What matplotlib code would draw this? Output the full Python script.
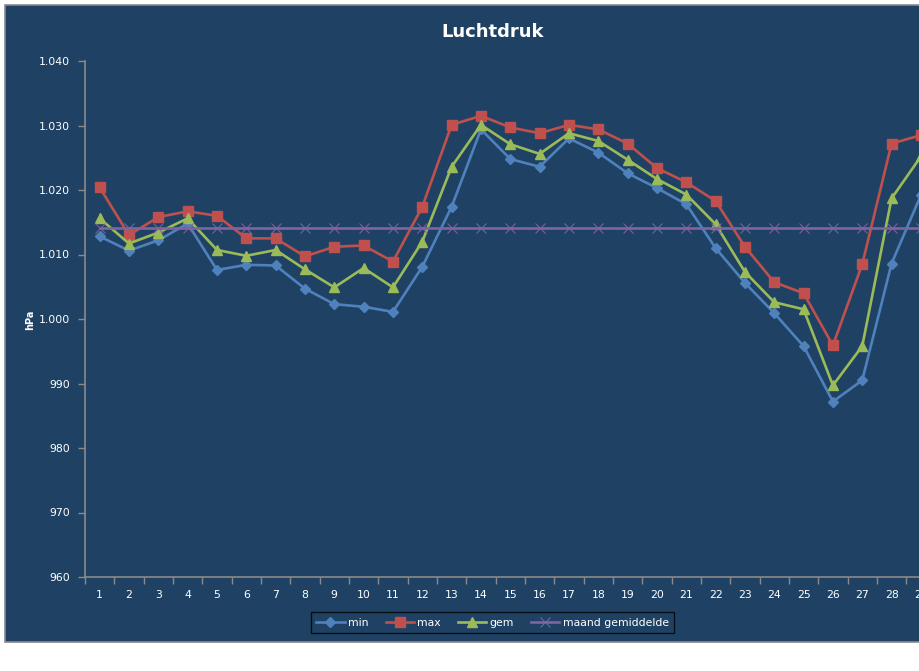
import matplotlib
matplotlib.use("Agg")
import matplotlib.pyplot as plt
from matplotlib.patches import Rectangle
from matplotlib.ticker import FuncFormatter, FixedLocator

# daily air pressure (hPa)
days = list(range(1, 30))
p_min = [1012.8, 1010.6, 1012.2, 1014.8, 1007.6, 1008.4, 1008.3, 1004.7, 1002.3, 1001.9,
         1001.1, 1008.1, 1017.4, 1029.4, 1024.8, 1023.6, 1028.0, 1025.8, 1022.6, 1020.3,
         1017.8, 1011.0, 1005.6, 1000.9, 995.8, 987.2, 990.5, 1008.6, 1019.2]
p_max = [1020.4, 1013.0, 1015.8, 1016.7, 1016.0, 1012.5, 1012.5, 1009.7, 1011.2, 1011.4,
         1008.9, 1017.4, 1030.1, 1031.5, 1029.7, 1028.8, 1030.1, 1029.4, 1027.2, 1023.4,
         1021.2, 1018.3, 1011.2, 1005.7, 1004.0, 995.9, 1008.5, 1027.2, 1028.5]
p_gem = [1015.6, 1011.7, 1013.4, 1015.6, 1010.7, 1009.8, 1010.7, 1007.7, 1004.9, 1007.9,
         1004.9, 1012.0, 1023.6, 1030.1, 1027.1, 1025.6, 1028.8, 1027.6, 1024.7, 1021.7,
         1019.3, 1014.7, 1007.3, 1002.6, 1001.5, 989.7, 995.8, 1018.7, 1025.2]
p_maand = [1014.1] * len(days)
n_days_axis = 31  # month continues past the clipped right edge

BG = "#1F4264"
AX = "#8A8A8A"
W, H = 920, 671

fig = plt.figure(figsize=(W / 100, H / 100), dpi=100, facecolor="white")
fig.patches.append(Rectangle((5 / W, (H - 642) / H), 1.2, (642 - 5) / H,
                             transform=fig.transFigure, facecolor=BG,
                             edgecolor=AX, linewidth=1.2, zorder=-5))

ax = fig.add_axes([85 / W, (H - 577) / H, n_days_axis * 29.33 / W, 516 / H])
ax.set_facecolor("none")
ax.set_zorder(2)

ax.plot(days, p_min, color="#4F81BD", lw=1.9, marker="D", ms=5.5, label="min")
ax.plot(days, p_max, color="#C0504D", lw=1.9, marker="s", ms=7, label="max")
ax.plot(days, p_gem, color="#9BBB59", lw=1.9, marker="^", ms=7, label="gem")
ax.plot(days, p_maand, color="#8064A2", lw=1.9, marker="x", ms=7, mew=0.7,
        label="maand gemiddelde")

ax.set_xlim(0.5, n_days_axis + 0.5)
ax.set_ylim(960, 1040)
ax.set_yticks(range(960, 1041, 10))
ax.yaxis.set_major_formatter(FuncFormatter(lambda v, _: f"{int(v):,}".replace(",", ".")))
ax.set_xticks(days)
ax.xaxis.set_minor_locator(FixedLocator([d + 0.5 for d in range(0, n_days_axis + 1)]))
ax.tick_params(axis="x", which="major", length=0, pad=9, colors="white", labelsize=7.8)
ax.tick_params(axis="x", which="minor", length=5, width=1, color=AX)
ax.tick_params(axis="y", length=5, width=1, color=AX, labelcolor="white",
               labelsize=7.8, pad=6)

for s in ["top", "right"]:
    ax.spines[s].set_visible(False)
for s in ["left", "bottom"]:
    ax.spines[s].set_color(AX)
    ax.spines[s].set_linewidth(1.2)

fig.text(30 / W, (H - 320) / H, "hPa", rotation=90, ha="center", va="center",
         color="white", fontsize=7, weight="bold")
fig.text(493 / W, (H - 32) / H, "Luchtdruk", ha="center", va="center",
         color="white", fontsize=13, weight="bold")

leg = fig.legend(loc="center", bbox_to_anchor=(492.5 / W, (H - 622.5) / H), ncol=4,
                 fontsize=7.8, frameon=True, facecolor=BG, edgecolor="black",
                 fancybox=False, handlelength=2.6, columnspacing=1.6,
                 handletextpad=0.3, borderpad=0.5)
leg.get_frame().set_linewidth(1.0)
for t in leg.get_texts():
    t.set_color("white")

fig.savefig("out.png", dpi=100, facecolor="white")
